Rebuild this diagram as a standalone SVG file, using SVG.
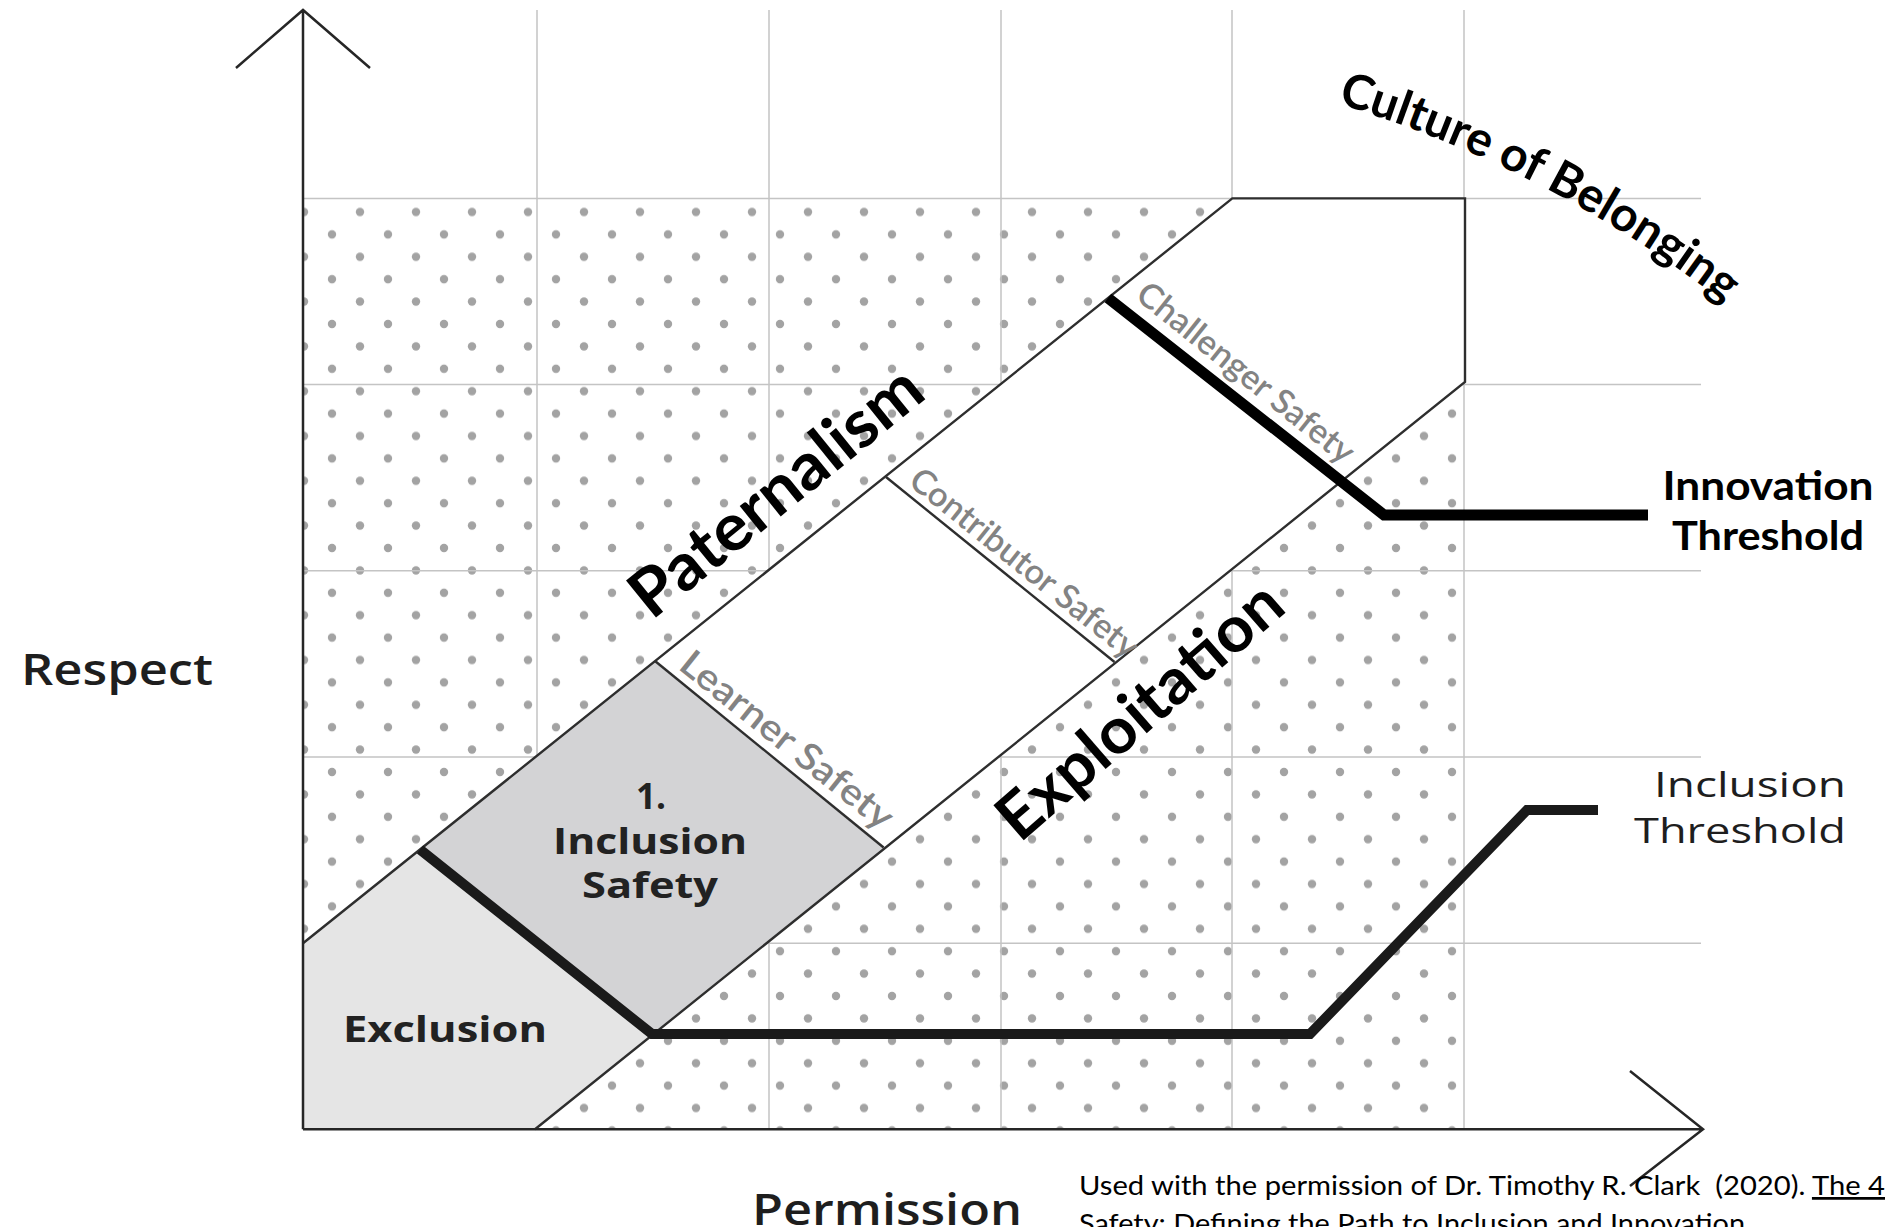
<svg xmlns="http://www.w3.org/2000/svg" width="1885" height="1227" viewBox="0 0 1885 1227">
<defs>
<style>
.grid{stroke:#c4c4c4;stroke-width:1.5;fill:none}
.edge{stroke:#2e2e2e;stroke-width:2.4;fill:none}
.axis{stroke:#262626;stroke-width:2.5;fill:none}
.thick{fill:none;stroke-linejoin:miter;stroke-linecap:butt}
.my{font-family:"Open Sans","Noto Sans",sans-serif;font-weight:500;fill:#1e1e1e}
.myr{font-family:"Open Sans","Noto Sans",sans-serif;font-weight:600;fill:#1e1e1e}
.myb{font-family:"Open Sans","Noto Sans",sans-serif;font-weight:700;fill:#222}
.cal{font-family:Lato,"Liberation Sans",sans-serif;fill:#000}
.calb{font-family:Lato,"Liberation Sans",sans-serif;font-weight:700;fill:#000}
.lvl{font-family:Lato,"Liberation Sans",sans-serif;font-weight:600;fill:#838383}
</style>
<pattern id="dots" patternUnits="userSpaceOnUse" x="276" y="189.6" width="56" height="44.8">
<circle cx="28" cy="22.4" r="4.2" fill="#a3a3a3"/>
<circle cx="0" cy="0" r="4.2" fill="#a3a3a3"/>
<circle cx="56" cy="0" r="4.2" fill="#a3a3a3"/>
<circle cx="0" cy="44.8" r="4.2" fill="#a3a3a3"/>
<circle cx="56" cy="44.8" r="4.2" fill="#a3a3a3"/>
</pattern>
<path id="culturePath" d="M1336,103 Q1550,168 1726,304"/>
</defs>
<rect width="1885" height="1227" fill="#fff"/>

<g id="background">
<rect x="303" y="198.4" width="1161" height="931" fill="url(#dots)"/>
<g class="grid">
<path d="M537,10V1129M769,10V1129M1001,10V1129M1232,10V1129M1464,10V1129"/>
<path d="M303,198.4H1701M303,384.6H1701M303,570.8H1701M303,757H1701M303,943.2H1701"/>
</g>
</g>

<g id="band">
<polygon points="303,943.3 1232.3,198.4 1465,198.4 1465,382 535,1129.3 303,1129.3" fill="#fff"/>
</g>
<g id="exclusion">
<polygon points="303,943.3 420,849.5 652,1034 535,1129.3 303,1129.3" fill="#e5e5e5"/>
<text class="myb" x="343" y="1042" font-size="36" textLength="204" lengthAdjust="spacingAndGlyphs">Exclusion</text>
</g>
<g id="inclusion-safety">
<polygon points="420,849.5 655,661 883.6,847.5 652,1034" fill="#d3d3d5"/>
<text class="myb" x="651" y="809" font-size="35" text-anchor="middle">1.</text>
<text class="myb" x="650" y="854" font-size="36" text-anchor="middle" textLength="194" lengthAdjust="spacingAndGlyphs">Inclusion</text>
<text class="myb" x="650" y="898" font-size="36" text-anchor="middle" textLength="136" lengthAdjust="spacingAndGlyphs">Safety</text>
</g>
<g id="band-outline">
<polyline class="edge" points="303,943.3 1232.3,198.4 1465,198.4 1465,382 535,1129.3"/>
</g>
<g id="learner-safety">
<line class="edge" x1="655" y1="661" x2="883.6" y2="847.5"/>
<text class="lvl" font-size="37" transform="translate(677,668) rotate(38.66)" textLength="262" lengthAdjust="spacingAndGlyphs">Learner Safety</text>
</g>
<g id="contributor-safety">
<line class="edge" x1="886" y1="477" x2="1114.5" y2="662"/>
<text class="lvl" font-size="34" transform="translate(907,484) rotate(38.66)" textLength="282" lengthAdjust="spacingAndGlyphs">Contributor Safety</text>
</g>
<g id="challenger-safety">
<text class="lvl" font-size="34" transform="translate(1134,298) rotate(38.66)" textLength="268" lengthAdjust="spacingAndGlyphs">Challenger Safety</text>
</g>

<g id="connectors">
<path class="thick" d="M420,849.5L652,1034L1310,1034L1527,810L1598,810" stroke="#1a1a1a" stroke-width="10"/>
<path class="thick" d="M1108,298L1384,515L1648,515" stroke="#000" stroke-width="11"/>
</g>

<g id="axes">
<path class="axis" d="M303,1129.3V10M236,68L303,10L370,68"/>
<path class="axis" d="M303,1129.3H1703M1630,1071L1703,1129.3L1630,1186"/>
<text class="myr" x="21" y="685" font-size="44" textLength="192" lengthAdjust="spacingAndGlyphs">Respect</text>
<text class="myr" x="752" y="1225" font-size="44" textLength="270" lengthAdjust="spacingAndGlyphs">Permission</text>
</g>

<g id="paternalism">
<text class="calb" font-size="66" text-anchor="middle" transform="translate(790,509) rotate(-39)" textLength="356" lengthAdjust="spacingAndGlyphs">Paternalism</text>
</g>
<g id="exploitation">
<text class="calb" font-size="64" text-anchor="middle" transform="translate(1154,727) rotate(-41)" textLength="356" lengthAdjust="spacingAndGlyphs">Exploitation</text>
</g>
<g id="culture-of-belonging">
<text class="calb" font-size="48" text-anchor="middle"><textPath href="#culturePath" startOffset="50%">Culture of Belonging</textPath></text>
</g>
<g id="innovation-threshold">
<text class="calb" x="1768" y="500" font-size="40" text-anchor="middle" textLength="211" lengthAdjust="spacingAndGlyphs">Innovation</text>
<text class="calb" x="1768" y="550" font-size="40" text-anchor="middle" textLength="192" lengthAdjust="spacingAndGlyphs">Threshold</text>
</g>
<g id="inclusion-threshold">
<text class="my" x="1846" y="797" font-size="35" text-anchor="end" textLength="192" lengthAdjust="spacingAndGlyphs">Inclusion</text>
<text class="my" x="1846" y="843" font-size="35" text-anchor="end" textLength="212" lengthAdjust="spacingAndGlyphs">Threshold</text>
</g>
<g id="citation">
<text class="cal" x="1079" y="1195" font-size="27.5" xml:space="preserve" textLength="806" lengthAdjust="spacingAndGlyphs">Used with the permission of Dr. Timothy R. Clark  (2020). <tspan text-decoration="underline">The 4</tspan></text>
<text class="cal" x="1079" y="1233" font-size="27.5" textLength="666" lengthAdjust="spacingAndGlyphs">Safety: Defining the Path to Inclusion and Innovation</text>
</g>
</svg>
